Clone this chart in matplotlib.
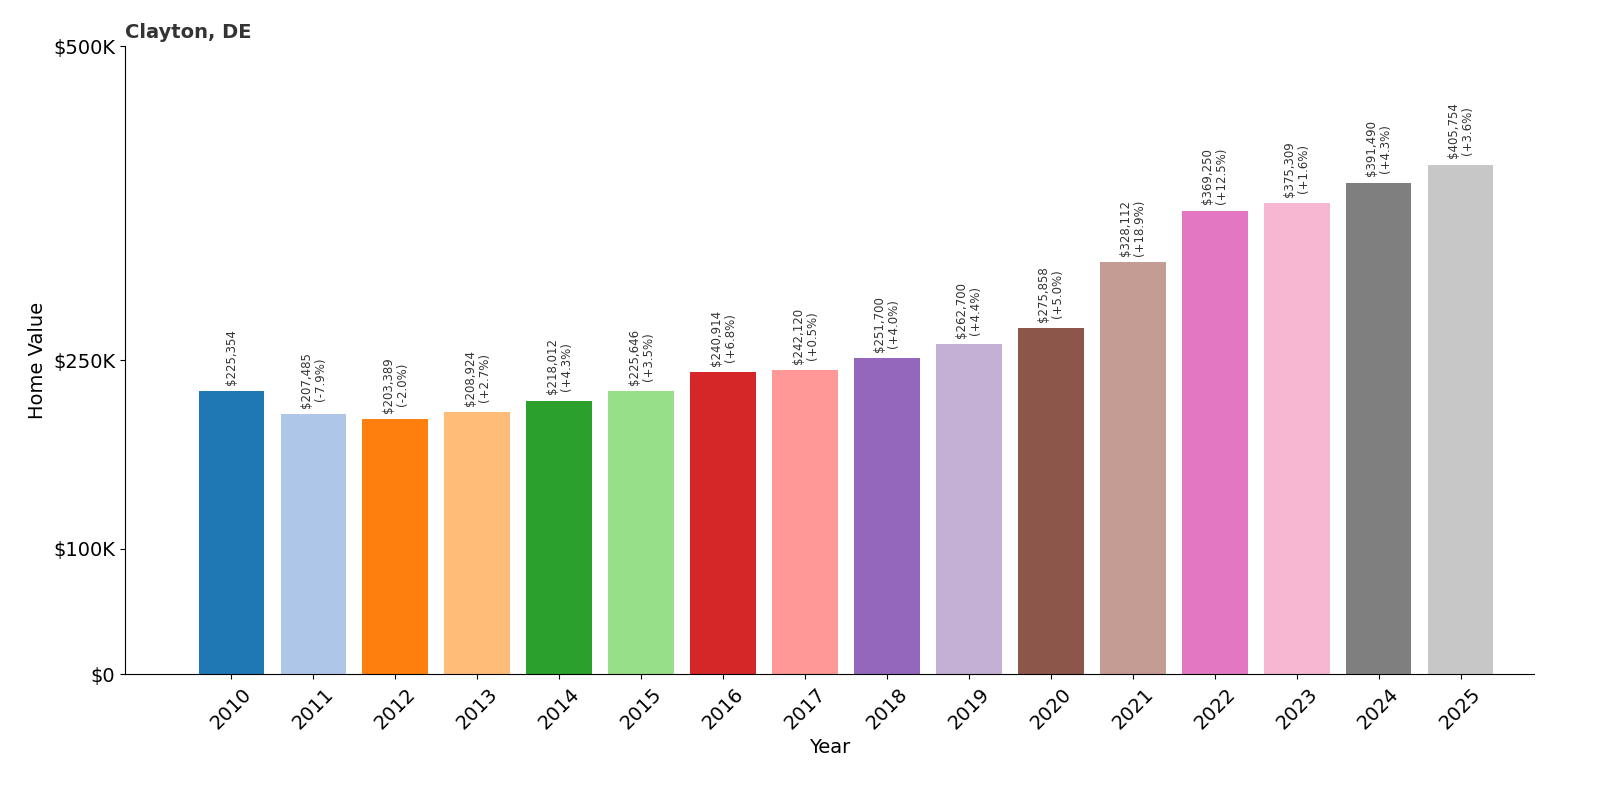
import matplotlib
matplotlib.use("Agg")
import matplotlib.pyplot as plt

years = [str(y) for y in range(2010, 2026)]
values = [225354, 207485, 203389, 208924, 218012, 225646, 240914, 242120,
          251700, 262700, 275858, 328112, 369250, 375309, 391490, 405754]
changes = [None, "-7.9%", "-2.0%", "+2.7%", "+4.3%", "+3.5%", "+6.8%", "+0.5%",
           "+4.0%", "+4.4%", "+5.0%", "+18.9%", "+12.5%", "+1.6%", "+4.3%", "+3.6%"]
yticks = [0, 100000, 250000, 500000]
ytick_labels = ["$0", "$100K", "$250K", "$500K"]

colors = plt.get_cmap("tab20").colors

fig = plt.figure(figsize=(16, 8), dpi=100)
ax = fig.add_axes([0.078, 0.157, 0.881, 0.785])
x = range(len(years))
ax.bar(x, values, color=colors[:len(years)], width=0.8)
for i, v in enumerate(values):
    lab = f"${v:,}" if changes[i] is None else f"${v:,}\n({changes[i]})"
    ax.text(i, v + 5000, lab, rotation=90, ha="center", va="bottom",
            fontsize=8.5, color="#333333", linespacing=1.1)
ax.set_xticks(list(x))
ax.set_xticklabels(years, rotation=45, fontsize=14)
ax.set_yticks(yticks)
ax.set_yticklabels(ytick_labels, fontsize=14)
ax.set_ylim(0, 500000)
ax.set_xlim(-1.3, 15.9)
ax.spines["top"].set_visible(False)
ax.spines["right"].set_visible(False)
ax.set_xlabel("Year", fontsize=14)
ax.set_ylabel("Home Value", fontsize=14)
ax.set_title("Clayton, DE", loc="left", fontsize=14, fontweight="bold", color="#333333", x=-0.0, y=1.0)
fig.savefig("out.png", dpi=100)
